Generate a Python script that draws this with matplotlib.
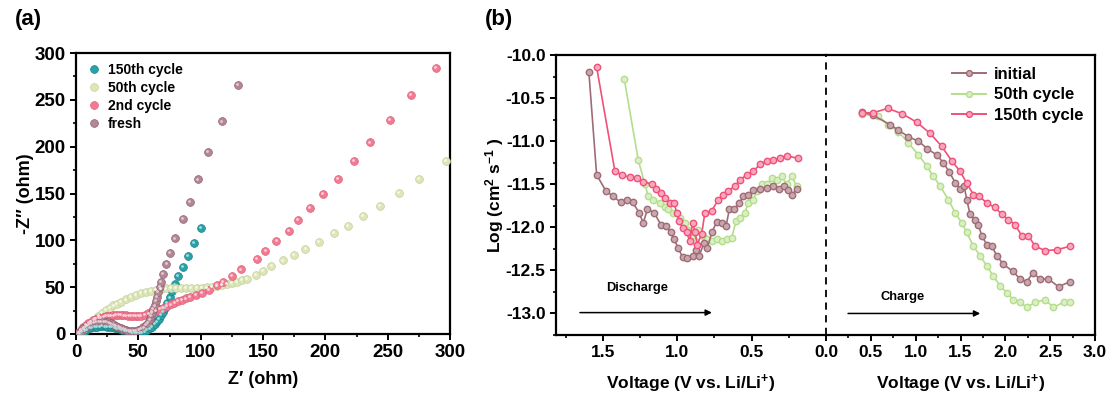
import matplotlib
matplotlib.use("Agg")
import matplotlib.pyplot as plt
from matplotlib.lines import Line2D
import matplotlib.transforms as mtransforms

plt.rcParams['font.family'] = ['Liberation Sans', 'DejaVu Sans']
plt.rcParams['font.weight'] = 'bold'
plt.rcParams['axes.unicode_minus'] = False
plt.rcParams['mathtext.fontset'] = 'custom'
plt.rcParams['mathtext.rm'] = 'Liberation Sans:bold'
plt.rcParams['mathtext.bf'] = 'Liberation Sans:bold'
plt.rcParams['mathtext.default'] = 'bf'

# ---------------- (a) Nyquist data ----------------
cyc150_re = [3, 5, 7, 9, 11, 13, 15, 17, 19, 21, 23, 25, 27, 29, 31, 33, 35, 37, 39, 41,
             43, 45, 47, 49, 51, 53, 55, 57, 59, 61, 63, 65, 66.5, 68, 69.5, 71, 72.8,
             75.2, 77.3, 79.5, 82, 85.9, 89.6, 94.7, 100]
cyc150_im = [0.5, 2, 3.5, 5, 6.2, 7, 7.6, 8, 8.2, 8.3, 8.2, 8, 7.7, 7.2, 6.6, 6, 5.3, 4.5,
             3.8, 3, 2.4, 1.8, 1.4, 1.2, 1.3, 1.8, 2.8, 4.2, 6, 8, 10.5, 13.5, 16.5, 20,
             23.5, 27.5, 33, 39, 46, 53, 62, 72, 83.4, 97.6, 113]

cyc50_re = [2, 4, 6, 9, 12, 15, 18, 21, 24, 27, 30, 33, 36, 40, 44, 48, 52, 56, 60, 64,
            68, 72, 76, 80, 84, 88, 92, 97, 101, 105, 109, 113, 117, 121, 125, 129, 133,
            137, 144, 150, 156.8, 165.9, 174.7, 184, 194.7, 206.7, 218, 230, 244, 258.7,
            275, 296.8]
cyc50_im = [1, 3, 5.5, 9, 12.5, 16, 19.5, 22.5, 25.5, 28, 30.5, 32.5, 34.5, 37, 39.5,
            41.5, 43.5, 45, 46.3, 47.3, 48, 48.6, 49, 49.2, 49.3, 49.3, 49.2, 49.1, 49.3,
            49.8, 50.5, 51.3, 52.3, 53.4, 54.6, 56, 57.5, 59, 63, 67, 72.5, 78.5, 84.5,
            91, 98.7, 107.6, 115.8, 126, 137, 151, 165.7, 185]

cyc2_re = [2, 4, 6, 8, 10, 12, 14, 16, 18, 20, 22, 24, 26, 28, 30, 32, 34, 36, 38, 40,
           42, 44, 46, 48, 50, 52, 55, 58, 61, 64, 67, 70, 73, 76, 79, 82, 85, 88, 91.5,
           96, 101.3, 106.7, 112.8, 117.9, 125.3, 132.3, 144.8, 152, 160.8, 171, 178,
           187.5, 197.9, 209.9, 222.7, 236, 252, 268.5, 288.8]
cyc2_im = [1, 4, 7, 9.5, 11.5, 13.3, 14.8, 16, 17, 17.8, 18.5, 19, 19.4, 19.7, 19.9, 20,
           20, 20, 19.9, 19.8, 19.6, 19.4, 19.3, 19.3, 19.4, 19.7, 20.5, 22, 23.5, 25,
           26.5, 28, 29.7, 31.5, 33.3, 35, 36.5, 38, 39.8, 41.7, 44, 47.5, 52, 56, 62,
           69, 80, 89, 99, 110.4, 121.8, 134.3, 149.6, 165.7, 185, 204.5, 228.7, 255.4,
           284]

fresh_re = [2, 4, 6, 8, 10, 12, 14, 16, 18, 20, 22, 24, 26, 28, 30, 32, 34, 36, 38, 40,
            42, 44, 46, 48, 50, 52, 54, 56, 57.5, 59, 60, 61, 62, 63, 64, 65, 66, 67, 68,
            70, 72.5, 75.5, 79.5, 86, 91.5, 98, 106, 117.3, 129.9]
fresh_im = [1, 3.5, 6, 8, 9.8, 11, 12, 12.8, 13.3, 13.5, 13.4, 13, 12.3, 11.4, 10.3, 9,
            7.8, 6.6, 5.4, 4.4, 3.6, 3.2, 3.2, 3.6, 4.3, 5.5, 7, 9.5, 12, 15.5, 19, 22.5,
            26.5, 30.5, 35, 40, 45, 50, 56, 64, 74.5, 87, 102, 122.5, 141, 165, 194, 227,
            266]

nyquist_labels = ['150th cycle', '50th cycle', '2nd cycle', 'fresh']
nyquist_colors = ['#2aa3a8', '#dde6b8', '#f37a92', '#b48795']
nyquist_edges = ['#1a7f86', '#c4d19c', '#d9607a', '#8f6270']
nyquist_glow = ['#9fe0e0', '#f5f8e8', '#ffd0da', '#e6ccd4']

# ---------------- (b) diffusion coefficient data ----------------
dis_v_initial = [1.594, 1.542, 1.479, 1.430, 1.381, 1.340, 1.300, 1.256, 1.229, 1.200,
                 1.155, 1.110, 1.076, 1.045, 1.022, 0.993, 0.964, 0.933, 0.897, 0.874,
                 0.852, 0.820, 0.798, 0.765, 0.735, 0.701, 0.672, 0.650, 0.617, 0.583,
                 0.556, 0.523, 0.489, 0.444, 0.399, 0.354, 0.316, 0.282, 0.254, 0.231,
                 0.197]
dis_d_initial = [-10.20, -11.39, -11.58, -11.64, -11.71, -11.68, -11.71, -11.83, -11.95,
                 -11.79, -11.83, -11.97, -11.99, -12.06, -12.14, -12.24, -12.35, -12.36,
                 -12.33, -12.26, -12.33, -12.18, -12.24, -12.05, -11.94, -11.95, -11.99,
                 -11.79, -11.79, -11.72, -11.64, -11.62, -11.57, -11.56, -11.54, -11.52,
                 -11.55, -11.52, -11.57, -11.62, -11.56]

dis_v_50 = [1.356, 1.262, 1.217, 1.195, 1.161, 1.116, 1.083, 1.060, 1.027, 0.982, 0.948,
            0.926, 0.904, 0.881, 0.859, 0.829, 0.802, 0.769, 0.735, 0.701, 0.668, 0.634,
            0.605, 0.578, 0.545, 0.523, 0.489, 0.466, 0.432, 0.399, 0.365, 0.332, 0.298,
            0.264, 0.231, 0.197]
dis_d_50 = [-10.28, -11.22, -11.50, -11.64, -11.68, -11.72, -11.76, -11.79, -11.83,
            -11.89, -11.95, -12.03, -12.12, -12.16, -12.03, -12.10, -12.14, -12.16,
            -12.14, -12.16, -12.14, -12.12, -11.93, -11.89, -11.83, -11.72, -11.68,
            -11.58, -11.50, -11.50, -11.43, -11.45, -11.41, -11.50, -11.41, -11.52]

dis_v_150 = [1.542, 1.419, 1.374, 1.318, 1.273, 1.229, 1.172, 1.143, 1.112, 1.083, 1.049,
             1.020, 1.004, 0.986, 0.964, 0.937, 0.915, 0.897, 0.881, 0.866, 0.836, 0.814,
             0.769, 0.724, 0.690, 0.657, 0.612, 0.578, 0.533, 0.489, 0.444, 0.399, 0.354,
             0.310, 0.265, 0.186]
dis_d_150 = [-10.14, -11.35, -11.39, -11.42, -11.43, -11.47, -11.50, -11.56, -11.60,
             -11.66, -11.72, -11.72, -11.83, -11.93, -12.01, -12.06, -12.16, -11.95,
             -12.05, -12.20, -12.08, -11.83, -11.81, -11.68, -11.62, -11.58, -11.52,
             -11.45, -11.39, -11.35, -11.27, -11.23, -11.22, -11.19, -11.17, -11.20]

chg_v_initial = [0.398, 0.528, 0.714, 0.807, 0.919, 1.031, 1.131, 1.235, 1.309, 1.376,
                 1.440, 1.496, 1.540, 1.570, 1.607, 1.660, 1.700, 1.737, 1.794, 1.850,
                 1.905, 1.979, 2.083, 2.165, 2.240, 2.307, 2.388, 2.481, 2.593, 2.723]
chg_d_initial = [-10.66, -10.70, -10.81, -10.87, -10.95, -11.00, -11.09, -11.16, -11.25,
                 -11.36, -11.48, -11.55, -11.52, -11.68, -11.85, -11.92, -11.97, -12.10,
                 -12.20, -12.22, -12.33, -12.43, -12.51, -12.60, -12.63, -12.53, -12.60,
                 -12.60, -12.69, -12.63]

chg_v_50 = [0.398, 0.584, 0.696, 0.807, 0.919, 1.031, 1.124, 1.198, 1.272, 1.365, 1.440,
            1.514, 1.570, 1.644, 1.719, 1.794, 1.868, 1.942, 2.017, 2.091, 2.165, 2.240,
            2.333, 2.444, 2.537, 2.649, 2.723]
chg_d_50 = [-10.69, -10.71, -10.81, -10.89, -11.02, -11.16, -11.29, -11.41, -11.52,
            -11.68, -11.83, -11.95, -12.06, -12.22, -12.33, -12.45, -12.57, -12.68,
            -12.76, -12.84, -12.87, -12.93, -12.87, -12.84, -12.93, -12.87, -12.87]

chg_v_150 = [0.398, 0.528, 0.688, 0.845, 1.012, 1.161, 1.291, 1.403, 1.496, 1.570, 1.644,
             1.711, 1.794, 1.886, 1.961, 2.035, 2.109, 2.184, 2.258, 2.333, 2.444, 2.575,
             2.723]
chg_d_150 = [-10.67, -10.67, -10.62, -10.68, -10.78, -10.91, -11.06, -11.23, -11.35,
             -11.49, -11.62, -11.64, -11.72, -11.77, -11.85, -11.91, -11.97, -12.10,
             -12.10, -12.22, -12.27, -12.26, -12.22]

diff_labels = ['initial', '50th cycle', '150th cycle']
diff_colors = ['#9e6c76', '#b4de8c', '#f0507a']
diff_faces = ['#c9a7ad', '#daf0c4', '#f7a9bb']

# ---------------- figure ----------------
W, H = 1113, 396
fig = plt.figure(figsize=(W / 100, H / 100), dpi=100)


def frac(x0, y0, x1, y1):
    return [x0 / W, 1 - y1 / H, (x1 - x0) / W, (y1 - y0) / H]


def style_axis(ax, size):
    for s in ax.spines.values():
        s.set_linewidth(1.6)
    ax.tick_params(which='major', direction='out', length=4.5, width=1.4,
                   labelsize=size, pad=3)
    ax.tick_params(which='minor', direction='out', length=2.5, width=1.2)


# (a)
axa = fig.add_axes(frac(76, 53, 450, 334))
series = [(cyc150_re, cyc150_im), (cyc50_re, cyc50_im), (cyc2_re, cyc2_im),
          (fresh_re, fresh_im)]
shine = mtransforms.offset_copy(axa.transData, fig=fig, x=-0.8, y=0.8, units='dots')
for (xr, yi), lab, c, e, g in zip(series, nyquist_labels, nyquist_colors,
                                  nyquist_edges, nyquist_glow):
    axa.plot(xr, yi, 'o', ms=5.6, mfc=c, mec=e, mew=0.5, label=lab, zorder=3)
    axa.plot(xr, yi, 'o', ms=2.0, mfc=g, mec='none', transform=shine, zorder=4)
axa.set_xlim(0, 300)
axa.set_ylim(0, 300)
axa.set_xticks(range(0, 301, 50))
axa.set_yticks(range(0, 301, 50))
axa.set_xticks(range(25, 300, 50), minor=True)
axa.set_yticks(range(25, 300, 50), minor=True)
style_axis(axa, 13.5)
axa.set_xlabel('Z′ (ohm)', fontsize=13, fontweight='bold', labelpad=7)
axa.set_ylabel('-Z″ (ohm)', fontsize=13, fontweight='bold', labelpad=0)
axa.legend(loc='upper left', frameon=False, handletextpad=0.4,
           labelspacing=0.3, borderaxespad=0.3, handlelength=1.2,
           prop={'weight': 'bold', 'size': 10})
fig.text(15 / W, 1 - 20 / H, '(a)', fontsize=16, fontweight='bold', va='center')

# (b) discharge half and charge half share one y scale
axl = fig.add_axes(frac(556, 55, 826, 335))
axr = fig.add_axes(frac(826, 55, 1095, 335), sharey=axl)

dis = [(dis_v_initial, dis_d_initial), (dis_v_50, dis_d_50), (dis_v_150, dis_d_150)]
chg = [(chg_v_initial, chg_d_initial), (chg_v_50, chg_d_50), (chg_v_150, chg_d_150)]
for i in [1, 0, 2]:
    kw = dict(color=diff_colors[i], lw=1.2, marker='o', ms=4.6, mfc=diff_faces[i],
              mec=diff_colors[i], mew=1.0)
    axl.plot(*dis[i], **kw)
    axr.plot(*chg[i], **kw)

axl.set_xlim(1.815, 0)
axr.set_xlim(0, 3.0)
axl.set_ylim(-13.24, -10.0)
axl.set_yticks([-10.0, -10.5, -11.0, -11.5, -12.0, -12.5, -13.0])
axl.set_yticks([-10.25, -10.75, -11.25, -11.75, -12.25, -12.75, -13.25], minor=True)
axl.yaxis.set_major_formatter(matplotlib.ticker.FormatStrFormatter('%.1f'))
axl.set_xticks([1.5, 1.0, 0.5])
axl.set_xticks([1.75, 1.25, 0.75, 0.25], minor=True)
axr.set_xticks([0.0, 0.5, 1.0, 1.5, 2.0, 2.5, 3.0])
axr.set_xticks([0.25, 0.75, 1.25, 1.75, 2.25, 2.75], minor=True)
axl.xaxis.set_major_formatter(matplotlib.ticker.FormatStrFormatter('%.1f'))
axr.xaxis.set_major_formatter(matplotlib.ticker.FormatStrFormatter('%.1f'))
style_axis(axl, 12.5)
style_axis(axr, 12.5)
axl.spines['right'].set_visible(False)
axr.spines['left'].set_visible(False)
axr.tick_params(axis='y', which='both', left=False, labelleft=False)
axr.axvline(0, color='black', ls=(0, (4, 3)), lw=1.3, clip_on=False, zorder=5)

axl.set_xlabel('Voltage (V vs. Li/Li$^{+}$)', fontsize=12.5, fontweight='bold',
               labelpad=9)
axr.set_xlabel('Voltage (V vs. Li/Li$^{+}$)', fontsize=12.5, fontweight='bold',
               labelpad=9)
axl.set_ylabel('Log (cm$^{2}$ s$^{-1}$ )', fontsize=12.5, fontweight='bold', labelpad=0)

axl.annotate('', xy=(0.767, -12.99), xytext=(1.654, -12.99),
             arrowprops=dict(arrowstyle='-|>', color='black', lw=1.1,
                             mutation_scale=9, shrinkA=0, shrinkB=0))
axl.text(1.27, -12.71, 'Discharge', fontsize=9.3, fontweight='bold', ha='center',
         va='center')
axr.annotate('', xy=(1.72, -13.0), xytext=(0.246, -13.0),
             arrowprops=dict(arrowstyle='-|>', color='black', lw=1.1,
                             mutation_scale=9, shrinkA=0, shrinkB=0))
axr.text(0.86, -12.81, 'Charge', fontsize=9.3, fontweight='bold', ha='center',
         va='center')

handles = [Line2D([], [], color=diff_colors[i], lw=1.4, marker='o', ms=4.2,
                  mfc=diff_faces[i], mec=diff_colors[i]) for i in range(3)]
axr.legend(handles, diff_labels, loc='upper right', frameon=False,
           prop={'weight': 'bold', 'size': 12}, handlelength=2.0, handletextpad=0.5,
           labelspacing=0.35, borderaxespad=0.3)
fig.text(485 / W, 1 - 20 / H, '(b)', fontsize=16, fontweight='bold', va='center')

fig.savefig('out.png', dpi=100)
